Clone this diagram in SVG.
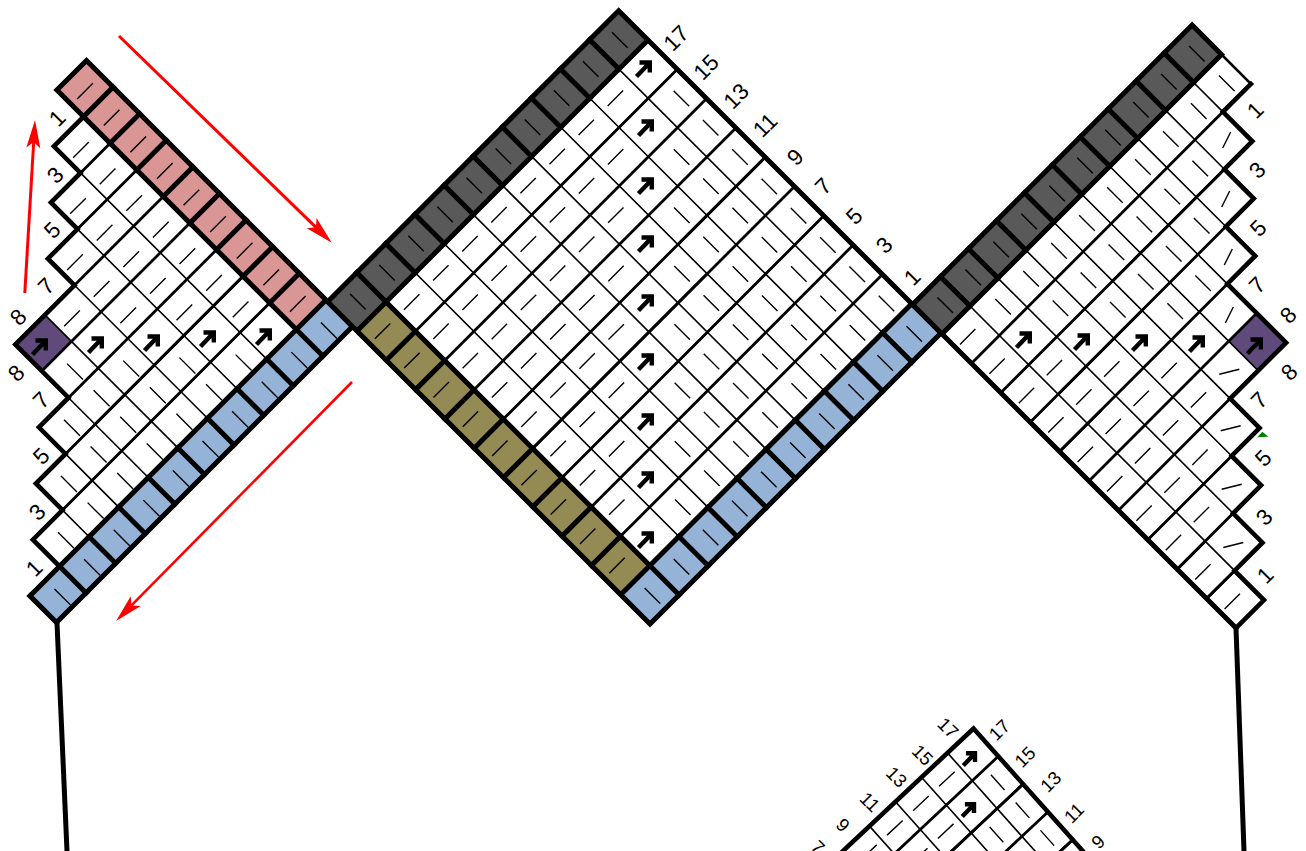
<svg xmlns="http://www.w3.org/2000/svg" xmlns:xlink="http://www.w3.org/1999/xlink" width="1306" height="851" viewBox="0 0 1306 851">
<style>
path{fill:none;stroke:#000;vector-effect:non-scaling-stroke}
.b{stroke-width:5;stroke-linecap:square;stroke-linejoin:miter}
.z{stroke-width:4.6;stroke-linecap:square}
.s{stroke-width:1.6}
.d{stroke-width:2.8;stroke:#222}
.w{stroke-width:1.1;stroke:#fff}
.k{stroke-width:2.8}
.t{stroke-width:1.4}
.n{stroke:none}
.pink{fill:#D99694}.blue{fill:#95B3D7}.dark{fill:#595959}.olive{fill:#948A54}.purple{fill:#604A7B}
text{font-family:"Liberation Sans",Arial,sans-serif;font-size:22.5px;text-anchor:middle;fill:#000}
.sm{font-size:18.5px}
.red{stroke:#f00;stroke-width:3;marker-end:url(#rh)}
.arr{stroke-width:4.4;stroke-linejoin:miter}
.long{stroke-width:5}
</style>
<defs>
<marker id="rh" markerUnits="userSpaceOnUse" markerWidth="30" markerHeight="16" refX="6" refY="8" orient="auto"><path class="n" style="fill:#f00" d="M28 8L0 1L6 8L0 15Z"/></marker>
<path id="a" class="arr" d="M-6.5 7.5L5 -4.5M-3.5 -6.5H6.8V3.5"/>
<path id="cd" d="M1 2H10M1 3H10M1 4H10M1 5H10M1 6H10M1 7H10M1 8H10M1 9H10"/>
<path id="ld" d="M2 2H9M3 3H9M4 4H9M4 5H9M6 6H9M7 7H9M8 8H9"/>
<path id="rd" d="M0 1H9M0 2H8M0 3H7M0 4H6M0 5H6M0 6H4M0 7H3M0 8H2M0 9H1"/>
<path id="bd" d="M1 0V8M2 0V8M3 0V8M4 0V8M5 0V8"/>
</defs>
<rect width="1306" height="851" fill="#fff"/>

<g id="left-chart">
<g transform="matrix(29.6 -29.6 -26.6 -26.6 56.5 622.5)">
<path class="n pink" d="M9 1H10V10H9Z"/>
<path class="n blue" d="M0 0H10V1H0Z"/>
<path class="n purple" d="M4 5H5V6H4Z"/>
<path class="s" d="M2 1V2M3 1V3M4 1V4M5 1V6M6 1V6M7 1V7M8 1V8"/>
<use href="#ld" class="d"/><use href="#ld" class="w"/>
<path class="k" d="M4 3H9"/>
<path class="b" d="M0 0H10V10H9V1M0 1H10M0 0V1"/>
<path class="z" d="M1 1V2H2V3H3V4H4V6H6V7H7V8H8V9H9"/>
<path class="b" d="M9 2H10M9 3H10M9 4H10M9 5H10M9 6H10M9 7H10M9 8H10M9 9H10M1 0V1M2 0V1M3 0V1M4 0V1M5 0V1M6 0V1M7 0V1M8 0V1M9 0V1"/>
</g>
<path class="t" transform="translate(-1 5) matrix(29.6 -29.6 -26.6 -26.6 56.5 622.5)" d="M8.235 2.5h.53M7.235 3.5h.53M8.235 3.5h.53M6.235 4.5h.53M7.235 4.5h.53M8.235 4.5h.53M5.235 5.5h.53M6.235 5.5h.53M7.235 5.5h.53M8.235 5.5h.53M6.235 6.5h.53M7.235 6.5h.53M8.235 6.5h.53M7.235 7.5h.53M8.235 7.5h.53M8.235 8.5h.53"/>
<path class="t" transform="translate(5 2) matrix(29.6 -29.6 -26.6 -26.6 56.5 622.5)" d="M1.5 1.2v.6M2.5 1.2v.6M3.5 1.2v.6M4.5 1.2v.6M5.5 1.2v.6M6.5 1.2v.6M7.5 1.2v.6M2.5 2.2v.6M3.5 2.2v.6M4.5 2.2v.6M5.5 2.2v.6M6.5 2.2v.6M3.5 3.2v.6M4.5 3.2v.6M5.5 3.2v.6M4.5 4.2v.6"/>
<path class="t" transform="translate(0 2.5) matrix(29.6 -29.6 -26.6 -26.6 56.5 622.5)" d="M9.235 1.5h.53M9.235 2.5h.53M9.235 3.5h.53M9.235 4.5h.53M9.235 5.5h.53M9.235 6.5h.53M9.235 7.5h.53M9.235 8.5h.53M9.235 9.5h.53"/>
<path class="t" transform="translate(4.5 2.5) matrix(29.6 -29.6 -26.6 -26.6 56.5 622.5)" d="M.5 .2v.6M1.5 .2v.6M2.5 .2v.6M3.5 .2v.6M4.5 .2v.6M5.5 .2v.6M6.5 .2v.6M7.5 .2v.6M8.5 .2v.6M9.5 .2v.6"/>
<use href="#a" x="39" y="347"/><use href="#a" x="95" y="345"/><use href="#a" x="151" y="343"/><use href="#a" x="207" y="339"/><use href="#a" x="263" y="337"/>
<g>
<text transform="translate(57 118) rotate(-45)" dy=".35em">1</text>
<text transform="translate(55 175) rotate(-45)" dy=".35em">3</text>
<text transform="translate(52 230) rotate(-45)" dy=".35em">5</text>
<text transform="translate(46 286) rotate(-45)" dy=".35em">7</text>
<text transform="translate(18 317) rotate(-45)" dy=".35em">8</text>
<text transform="translate(16 373) rotate(-45)" dy=".35em">8</text>
<text transform="translate(41 400) rotate(-45)" dy=".35em">7</text>
<text transform="translate(41 456) rotate(-45)" dy=".35em">5</text>
<text transform="translate(37 512) rotate(-45)" dy=".35em">3</text>
<text transform="translate(34 568) rotate(-45)" dy=".35em">1</text>
</g>
</g>

<g id="center-chart">
<g transform="matrix(29.1 -29.1 -29.3 -29.3 650 624)">
<path class="n olive" d="M0 1H1V10H0Z"/>
<path class="n blue" d="M0 0H10V1H0Z"/>
<path class="n dark" d="M0 10H10V11H0Z"/>
<path class="s" d="M2 1V10M3 1V10M4 1V10M5 1V10M6 1V10M7 1V10M8 1V10M9 1V10"/>
<use href="#cd" class="d"/><use href="#cd" class="w"/>
<path class="k" d="M1 5H7M7 6H10"/>
<path class="b" d="M0 0H10V11H0ZM1 1V10M0 1H10M0 10H10"/>
<path class="b" d="M0 2H1M0 3H1M0 4H1M0 5H1M0 6H1M0 7H1M0 8H1M0 9H1M1 10V11M2 10V11M3 10V11M4 10V11M5 10V11M6 10V11M7 10V11M8 10V11M9 10V11M1 0V1M2 0V1M3 0V1M4 0V1M5 0V1M6 0V1M7 0V1M8 0V1M9 0V1"/>
</g>
<path class="t" transform="translate(-3.6 0) matrix(29.1 -29.1 -29.3 -29.3 650 624)" d="M1.235 2.5h.53M1.235 3.5h.53M1.235 4.5h.53M1.235 5.5h.53M1.235 6.5h.53M1.235 7.5h.53M1.235 8.5h.53M1.235 9.5h.53M2.235 3.5h.53M2.235 4.5h.53M2.235 5.5h.53M2.235 6.5h.53M2.235 7.5h.53M2.235 8.5h.53M2.235 9.5h.53M3.235 4.5h.53M3.235 5.5h.53M3.235 6.5h.53M3.235 7.5h.53M3.235 8.5h.53M3.235 9.5h.53M4.235 5.5h.53M4.235 6.5h.53M4.235 7.5h.53M4.235 8.5h.53M4.235 9.5h.53M5.235 6.5h.53M5.235 7.5h.53M5.235 8.5h.53M5.235 9.5h.53M6.235 7.5h.53M6.235 8.5h.53M6.235 9.5h.53M7.235 8.5h.53M7.235 9.5h.53M8.235 9.5h.53M.235 1.5h.53M.235 2.5h.53M.235 3.5h.53M.235 4.5h.53M.235 5.5h.53M.235 6.5h.53M.235 7.5h.53M.235 8.5h.53M.235 9.5h.53"/>
<path class="t" transform="translate(4 0) matrix(29.1 -29.1 -29.3 -29.3 650 624)" d="M2.5 1.235v.53M3.5 1.235v.53M4.5 1.235v.53M5.5 1.235v.53M6.5 1.235v.53M7.5 1.235v.53M8.5 1.235v.53M9.5 1.235v.53M3.5 2.235v.53M4.5 2.235v.53M5.5 2.235v.53M6.5 2.235v.53M7.5 2.235v.53M8.5 2.235v.53M9.5 2.235v.53M4.5 3.235v.53M5.5 3.235v.53M6.5 3.235v.53M7.5 3.235v.53M8.5 3.235v.53M9.5 3.235v.53M5.5 4.235v.53M6.5 4.235v.53M7.5 4.235v.53M8.5 4.235v.53M9.5 4.235v.53M6.5 5.235v.53M7.5 5.235v.53M8.5 5.235v.53M9.5 5.235v.53M7.5 6.235v.53M8.5 6.235v.53M9.5 6.235v.53M8.5 7.235v.53M9.5 7.235v.53M9.5 8.235v.53"/>
<path class="t" transform="translate(2.5 1) matrix(29.1 -29.1 -29.3 -29.3 650 624)" d="M.5 .235v.53M1.5 .235v.53M2.5 .235v.53M3.5 .235v.53M4.5 .235v.53M5.5 .235v.53M6.5 .235v.53M7.5 .235v.53M8.5 .235v.53M9.5 .235v.53"/>
<path class="t" transform="translate(1 0) matrix(29.1 -29.1 -29.3 -29.3 650 624)" d="M.5 10.235v.53M1.5 10.235v.53M2.5 10.235v.53M3.5 10.235v.53M4.5 10.235v.53M5.5 10.235v.53M6.5 10.235v.53M7.5 10.235v.53M8.5 10.235v.53M9.5 10.235v.53"/>
<use href="#a" x="645" y="540"/><use href="#a" x="645" y="480"/><use href="#a" x="645" y="422"/><use href="#a" x="645" y="362"/><use href="#a" x="645" y="303"/><use href="#a" x="645" y="244"/><use href="#a" x="645" y="186"/><use href="#a" x="645" y="128"/><use href="#a" x="643" y="69"/>
<g>
<text transform="translate(676 38) rotate(-45)" dy=".35em">17</text>
<text transform="translate(706 67) rotate(-45)" dy=".35em">15</text>
<text transform="translate(736 96) rotate(-45)" dy=".35em">13</text>
<text transform="translate(765 125) rotate(-45)" dy=".35em">11</text>
<text transform="translate(795 157) rotate(-45)" dy=".35em">9</text>
<text transform="translate(823 186) rotate(-45)" dy=".35em">7</text>
<text transform="translate(854 216) rotate(-45)" dy=".35em">5</text>
<text transform="translate(884 245) rotate(-45)" dy=".35em">3</text>
<text transform="translate(912 277) rotate(-45)" dy=".35em">1</text>
</g>
</g>

<g id="right-chart">
<g transform="matrix(27.95 -27.95 29.4 29.4 942 334)">
<path class="n dark" d="M0 -1H10V0H0Z"/>
<path class="n purple" d="M5 5H6V6H5Z"/>
<path class="s" d="M1 0V9M2 0V8M3 0V7M4 0V6M5 0V6M6 0V4M7 0V3M8 0V2M9 0V1"/>
<use href="#rd" class="d"/><use href="#rd" class="w"/>
<path class="k" d="M0 4H1.5M1 3H4M4 2H8M0 9H1M0 8H1"/>
<path class="b" d="M0 -1H10V0M0 -1V10M0 0H10"/>
<path class="s" style="stroke-width:2.6" d="M10 0V1"/>
<path class="z" d="M10 1H9V2H8V3H7V4H6V6H4V7H3V8H2V9H1V10H0"/>
<path class="b" d="M1 -1V0M2 -1V0M3 -1V0M4 -1V0M5 -1V0M6 -1V0M7 -1V0M8 -1V0M9 -1V0"/>
</g>
<path class="t" transform="translate(4.5 0) matrix(27.95 -27.95 29.4 29.4 942 334)" d="M1.5 .235v.53M2.5 .235v.53M3.5 .235v.53M4.5 .235v.53M5.5 .235v.53M6.5 .235v.53M7.5 .235v.53M8.5 .235v.53M9.5 .235v.53M2.5 1.235v.53M3.5 1.235v.53M4.5 1.235v.53M5.5 1.235v.53M6.5 1.235v.53M7.5 1.235v.53M3.5 2.235v.53M4.5 2.235v.53M5.5 2.235v.53M6.5 2.235v.53M4.5 3.235v.53M5.5 3.235v.53"/>
<path class="t" transform="translate(-3 2) matrix(27.95 -27.95 29.4 29.4 942 334)" d="M.225 .5h.55M.225 1.5h.55M.225 2.5h.55M1.225 2.5h.55M.225 3.5h.55M1.225 3.5h.55M2.225 3.5h.55M.225 4.5h.55M1.225 4.5h.55M2.225 4.5h.55M3.225 4.5h.55M.225 5.5h.55M1.225 5.5h.55M2.225 5.5h.55M3.225 5.5h.55M.225 6.5h.55M1.225 6.5h.55M2.225 6.5h.55M.225 7.5h.55M1.225 7.5h.55M.225 8.5h.55M.225 9.5h.55"/>
<path class="t" transform="translate(4 0) matrix(27.95 -27.95 29.4 29.4 942 334)" d="M.5 -.765v.53M1.5 -.765v.53M2.5 -.765v.53M3.5 -.765v.53M4.5 -.765v.53M5.5 -.765v.53M6.5 -.765v.53M7.5 -.765v.53M8.5 -.765v.53M9.5 -.765v.53"/>
<path class="t" d="M1222.7 148l8 -16M1221.7 207l8 -16M1224.3 265l8 -16M1225.3 323l8 -16M1219.3 374.2l20 -5M1220.7 430.8l20 -5M1221.7 489.2l20 -5M1223.3 547.5l20 -5"/>
<use href="#a" x="1023" y="340"/><use href="#a" x="1081" y="342"/><use href="#a" x="1139" y="343"/><use href="#a" x="1196" y="344"/><use href="#a" x="1254" y="346"/>
<polygon points="1257.3,437.3 1262.3,431.7 1268.3,436.7" fill="#008000"/>
<g>
<text transform="translate(1255 110) rotate(-45)" dy=".35em">1</text>
<text transform="translate(1257 170) rotate(-45)" dy=".35em">3</text>
<text transform="translate(1258 228) rotate(-45)" dy=".35em">5</text>
<text transform="translate(1257 285) rotate(-45)" dy=".35em">7</text>
<text transform="translate(1288 315) rotate(-45)" dy=".35em">8</text>
<text transform="translate(1289 372) rotate(-45)" dy=".35em">8</text>
<text transform="translate(1259 400) rotate(-45)" dy=".35em">7</text>
<text transform="translate(1263 458) rotate(-45)" dy=".35em">5</text>
<text transform="translate(1264 517) rotate(-45)" dy=".35em">3</text>
<text transform="translate(1265 575) rotate(-45)" dy=".35em">1</text>
</g>
</g>

<g id="bottom-chart">
<g transform="matrix(24.8 27.8 -26 24.4 973.5 728.5)">
<path class="s" d="M0 1H8M0 2H8M0 3H8M0 4H8M0 5H8"/>
<use href="#bd" class="d"/><use href="#bd" class="w"/>
<path class="k" d="M2 0V4M4 0V2"/>
<path class="z" d="M0 7V0H7"/>
<path class="t" d="M.5 1.2v.6M.5 2.2v.6M.5 3.2v.6M.5 4.2v.6M1.5 2.2v.6M1.5 3.2v.6M1.225 .5h.55M2.225 .5h.55M2.225 1.5h.55M3.225 .5h.55"/>
</g>
<use href="#a" transform="translate(969 759) scale(.88)"/><use href="#a" transform="translate(968 810) scale(.88)"/>
<g>
<text class="sm" transform="translate(948 728) rotate(45)" dy=".35em">17</text>
<text class="sm" transform="translate(922.7 755) rotate(45)" dy=".35em">15</text>
<text class="sm" transform="translate(896.7 777) rotate(45)" dy=".35em">13</text>
<text class="sm" transform="translate(870 802) rotate(45)" dy=".35em">11</text>
<text class="sm" transform="translate(843 825) rotate(45)" dy=".35em">9</text>
<text class="sm" transform="translate(818 847) rotate(45)" dy=".35em">7</text>
<text class="sm" transform="translate(999.3 730) rotate(-45)" dy=".35em">17</text>
<text class="sm" transform="translate(1025 757) rotate(-45)" dy=".35em">15</text>
<text class="sm" transform="translate(1050.7 781.7) rotate(-45)" dy=".35em">13</text>
<text class="sm" transform="translate(1074 813) rotate(-45)" dy=".35em">11</text>
<text class="sm" transform="translate(1098 841.7) rotate(-45)" dy=".35em">9</text>
</g>
</g>

<g id="connectors">
<path class="long" d="M57 623L67 851"/>
<path class="long" d="M1236 628L1244 851"/>
<path class="red" d="M24.8 293L33.7 142"/>
<path class="red" d="M119 36L316 227.3"/>
<path class="red" style="stroke-width:2.6" d="M352 382L131.5 605.4"/>
</g>
</svg>
